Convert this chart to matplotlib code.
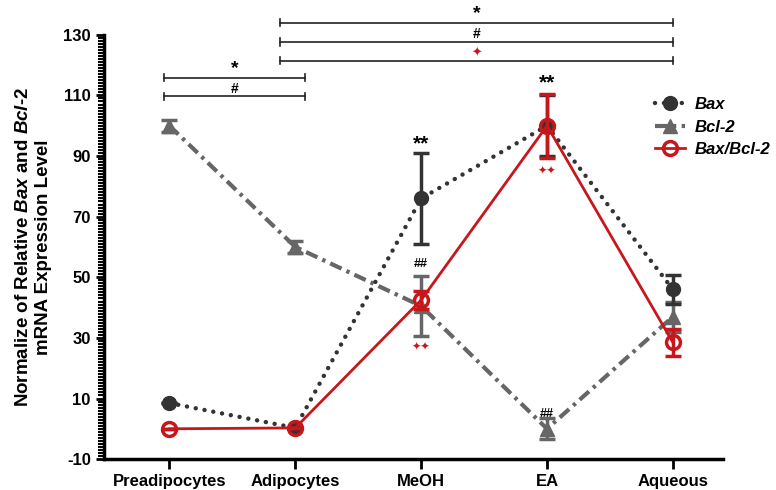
import numpy as np
import matplotlib
matplotlib.use("Agg")
import matplotlib.pyplot as plt
from matplotlib.lines import Line2D

plt.rcParams['font.family'] = ['Liberation Sans', 'DejaVu Sans']
plt.rcParams['font.weight'] = 'bold'
plt.rcParams['axes.unicode_minus'] = False
plt.rcParams['mathtext.fontset'] = 'custom'
plt.rcParams['mathtext.it'] = 'Liberation Sans:italic:bold'

# data
groups = ["Preadipocytes", "Adipocytes", "MeOH", "EA", "Aqueous"]
bax = [8.5, 0.3, 76, 100, 46]
bax_err = [0, 0, 15, 10, 4.7]
bcl2 = [100, 60, 40.5, 0, 37]
bcl2_err = [2, 2, 10, 3.5, 5]
ratio = [0, 0.3, 42.5, 100, 28.5]
ratio_err = [0, 0, 3, 10.5, 4.5]

x = np.arange(len(groups))

dark = "#333333"
grey = "#666666"
red = "#c8161d"
dot_ls = (0, (0.01, 2.0))
dashdot_ls = (0, (3, 1.3, 0.8, 1.3))

fig = plt.figure(figsize=(7.76, 4.90), dpi=100)
ax = fig.add_axes([0.134, 0.063, 0.798, 0.866])

# Bcl-2
ax.errorbar(x, bcl2, yerr=bcl2_err, color=grey, lw=3, ls=dashdot_ls,
            marker="^", ms=10, capsize=6, capthick=2.5, elinewidth=2.5, zorder=3)
# Bax
bl = ax.errorbar(x, bax, yerr=bax_err, color=dark, lw=3.2, ls=dot_ls,
                 marker="o", ms=10, capsize=6, capthick=2.5,
                 elinewidth=2.5, zorder=4)
bl.lines[0].set_dash_capstyle("round")
# Bax/Bcl-2
ax.errorbar(x, ratio, yerr=ratio_err, color=red, lw=2, ls="-", marker="o",
            ms=10, mfc="none", mec=red, mew=2.5, capsize=6, capthick=2.5,
            elinewidth=2.5, zorder=5)

ax.set_xlim(-0.52, 4.4)
ax.set_ylim(-10, 130)
ax.set_xticks(x)
ax.set_xticklabels(groups, fontsize=12, fontweight="bold")
ax.set_yticks(np.arange(-10, 131, 20))
ax.set_yticks(np.arange(-10, 131, 1), minor=True)
ax.tick_params(axis="y", which="major", length=6, width=2, labelsize=12)
ax.tick_params(axis="y", which="minor", length=4, width=1.5)
ax.tick_params(axis="x", length=7, width=2)
for s in ["top", "right"]:
    ax.spines[s].set_visible(False)
for s in ["left", "bottom"]:
    ax.spines[s].set_linewidth(2.5)

ax.set_ylabel("Normalize of Relative $\\mathit{Bax}$ and $\\mathit{Bcl}$-2\nmRNA Expression Level",
              fontsize=13.5, fontweight="bold", labelpad=8)


def bracket(x0, x1, y, text, color="black", size=12, dy=2.5):
    ax.plot([x0, x1], [y, y], color="#222222", lw=1.2, clip_on=False)
    for xx in (x0, x1):
        ax.plot([xx, xx], [y - 1.2, y + 1.2], color="#222222", lw=1.2, clip_on=False)
    ax.text((x0 + x1) / 2, y + dy, text, ha="center", va="center", color=color,
            fontsize=size, fontweight="bold", clip_on=False)


bracket(0.88, 4.0, 134, "*", size=14, dy=3)
bracket(0.88, 4.0, 127.6, "#", size=10)
bracket(0.88, 4.0, 121.4, "✦", color=red, size=9)
bracket(-0.04, 1.08, 115.9, "*", size=14, dy=3)
bracket(-0.04, 1.08, 109.7, "#", size=10)

ax.text(2, 94, "**", ha="center", va="center", fontsize=15, fontweight="bold")
ax.text(3, 114, "**", ha="center", va="center", fontsize=15, fontweight="bold")
ax.text(2, 54.5, "##", ha="center", va="center", fontsize=9)
ax.text(3, 5, "##", ha="center", va="center", fontsize=9)
ax.text(2, 27, "✦✦", ha="center", va="center", fontsize=8, color=red)
ax.text(3, 85, "✦✦", ha="center", va="center", fontsize=8, color=red)

handles = [
    Line2D([], [], color=dark, lw=3.2, ls=dot_ls, dash_capstyle="round", marker="o", ms=10),
    Line2D([], [], color=grey, lw=3, ls=dashdot_ls, marker="^", ms=10),
    Line2D([], [], color=red, lw=2, marker="o", ms=10, mfc="none", mew=2.5),
]
leg = fig.legend(handles, ["Bax", "Bcl-2", "Bax/Bcl-2"], loc="upper left",
                 bbox_to_anchor=(0.835, 0.815), frameon=False, handlelength=1.8,
                 labelspacing=0.45, handletextpad=0.6, borderaxespad=0,
                 prop={"style": "italic", "weight": "bold", "size": 12})

fig.savefig("out.png", dpi=100)
